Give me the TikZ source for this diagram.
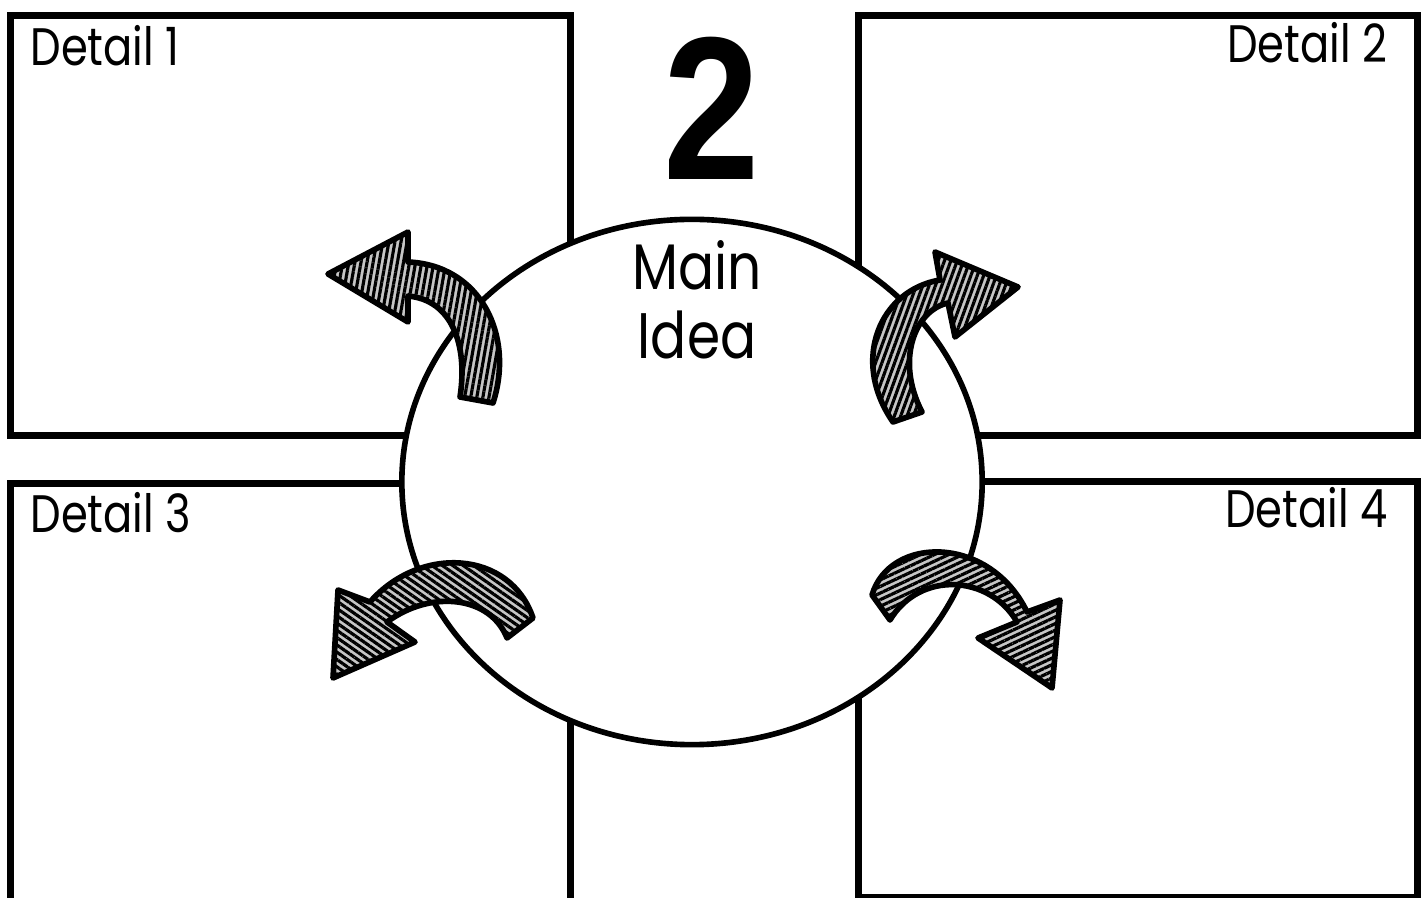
\documentclass[tikz,border=0pt]{standalone}
\usepackage{fontspec}
\setmainfont{Poppins}
\newfontfamily\numfont{Liberation Sans}
\usetikzlibrary{shapes.geometric, patterns.meta}

\begin{document}
\begin{tikzpicture}[
  x=0.01cm, y=-0.01cm,
  detailbox/.style = {draw, line width=2pt, fill=white, anchor=north west, inner sep=0pt},
  label/.style     = {font=\fontsize{15}{18}\selectfont, xscale=0.82, inner sep=0pt},
  ideatext/.style  = {font=\fontsize{18.3}{20}\selectfont, xscale=0.83, inner sep=0pt, anchor=base},
  mainidea/.style  = {draw, ellipse, line width=1.6pt, fill=white,
                      minimum width=5.8cm, minimum height=5.25cm},
  hatch/.style     = {draw, line width=1.6pt, line join=round,
                      preaction={fill=gray!45},
                      pattern={Lines[angle=#1, distance=1.7pt, line width=0.9pt]}},
]
  \useasboundingbox (0,0) rectangle (1422,898);

  % the four detail boxes
  \node[detailbox, minimum width=5.60cm, minimum height=4.20cm] (d1) at (7,12)   {};
  \node[detailbox, minimum width=5.59cm, minimum height=4.20cm] (d2) at (855,12) {};
  \node[detailbox, minimum width=5.60cm, minimum height=4.30cm] (d3) at (7,480)  {};
  \node[detailbox, minimum width=5.59cm, minimum height=4.16cm] (d4) at (855,478) {};

  \node[label, anchor=base west] (t1) at (30,66)   {Detail 1};
  \node[label, anchor=base east] (t2) at (1388,63) {Detail 2};
  \node[label, anchor=base west] (t3) at (30,533)  {Detail 3};
  \node[label, anchor=base east] (t4) at (1388,528) {Detail 4};

  % centre
  \node[mainidea] (main) at (692,482) {};
  \node[ideatext] (mtxt1) at (697,290) {Main};
  \node[ideatext] (mtxt2) at (697,359) {Idea};

  \node[font=\numfont\bfseries\fontsize{58}{60}\selectfont, xscale=0.85, anchor=base] (num) at (712,180) {2};

  % arrows
  \path[hatch=80] (460,397) .. controls (468,345) and (452,300) .. (408,296) -- (408,322)
     -- (328,274) -- (408,232) -- (408,262) .. controls (480,265) and (515,335) .. (493,403) -- cycle;
  \path[hatch=70] (922,412) .. controls (895,360) and (915,310) .. (948,303) -- (955,337)
     -- (1018,287) -- (935,252) -- (940,280) .. controls (880,290) and (850,360) .. (893,422) -- cycle;
  \path[hatch=-35] (507,638) .. controls (490,595) and (430,590) .. (387,622) -- (415,642)
     -- (333,678) -- (338,590) -- (370,602) .. controls (420,545) and (510,550) .. (533,618) -- cycle;
  \path[hatch=25] (890,620) .. controls (920,570) and (990,575) .. (1017,622) -- (978,638)
     -- (1052,688) -- (1060,600) -- (1027,612) .. controls (990,535) and (890,535) .. (872,595) -- cycle;
\end{tikzpicture}
\end{document}
